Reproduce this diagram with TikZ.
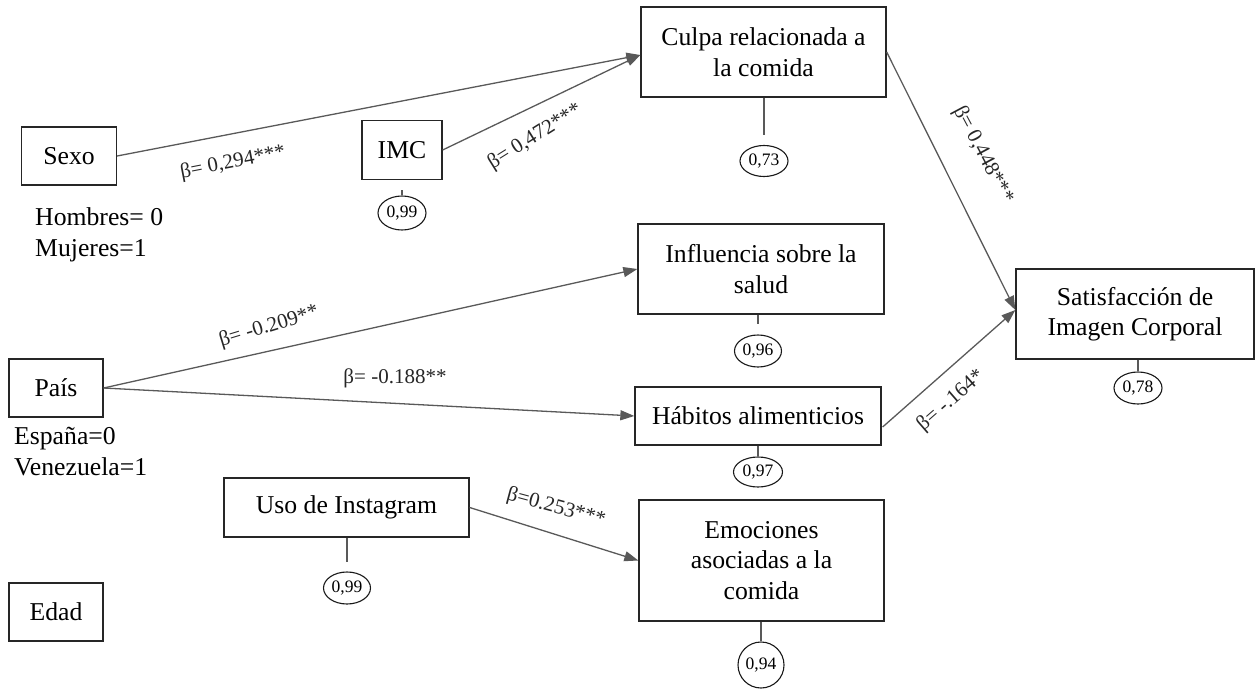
\documentclass[tikz,border=0pt]{standalone}
\usepackage{fontspec}
\setmainfont{Liberation Serif}
\usetikzlibrary{arrows.meta,shapes.geometric,calc}
\begin{document}
\begin{tikzpicture}[x=1pt,y=-1pt,
  box/.style={draw=black!85, line width=1.3pt, rectangle, align=center, inner sep=0pt, font=\fontsize{25.7}{30.5}\selectfont},
  err/.style={draw=black!90, line width=1.1pt, ellipse, inner sep=0pt, font=\fontsize{17.5}{19}\selectfont},
  arr/.style={draw=black!65, line width=1.3pt, -{Triangle[length=14pt,width=10pt]}},
  stub/.style={draw=black!65, line width=1.1pt},
  coef/.style={font=\fontsize{21}{23}\selectfont, text=black!85, inner sep=0pt},
  note/.style={font=\fontsize{25.7}{30.5}\selectfont, align=left, inner sep=0pt, anchor=west}
]
\useasboundingbox (0,0) rectangle (1256,690);

% boxes
\node[box, minimum width=95pt, minimum height=58pt] (sexo) at (69,156) {Sexo};
\node[box, minimum width=80pt, minimum height=59pt] (imc) at (402,150) {IMC};
\node[box, minimum width=245pt, minimum height=90pt] (culpa) at (763.5,52) {Culpa relacionada a\\la comida};
\node[box, minimum width=246pt, minimum height=90pt] (infl) at (761,269) {Influencia sobre la\\salud};
\node[box, minimum width=238pt, minimum height=90pt] (sat) at (1135,314) {Satisfacción de\\Imagen Corporal};
\node[box, minimum width=246pt, minimum height=58pt] (hab) at (758,416) {Hábitos alimenticios};
\node[box, minimum width=245pt, minimum height=121pt] (emo) at (761.5,560.5) {Emociones\\asociadas a la\\comida};
\node[box, minimum width=245pt, minimum height=59pt] (inst) at (346.5,507.5) {Uso de Instagram};
\node[box, minimum width=94pt, minimum height=58pt] (pais) at (56,388) {País};
\node[box, minimum width=94pt, minimum height=58pt] (edad) at (56,612) {Edad};

% notes
\node[note] (nsexo) at (35,235) {Hombres= 0\\Mujeres=1};
\node[note] (npais) at (14,451.5) {España=0\\Venezuela=1};

% error terms
\node[err, minimum width=48pt, minimum height=34pt] (eimc) at (402,213) {0,99};
\node[err, minimum width=48pt, minimum height=31pt] (eculpa) at (764,161) {0,73};
\node[err, minimum width=47pt, minimum height=32pt] (einfl) at (758,351) {0,96};
\node[err, minimum width=48pt, minimum height=32pt] (esat) at (1138,388) {0,78};
\node[err, minimum width=49pt, minimum height=30pt] (ehab) at (758,472) {0,97};
\node[err, minimum width=46pt, minimum height=46pt] (eemo) at (761,665) {0,94};
\node[err, minimum width=47pt, minimum height=32pt] (einst) at (347,588) {0,99};

% stubs
\draw[stub, shorten <=10pt] (eimc.north |- imc.south) -- (eimc.north);
\draw[stub, shorten >=10pt] (eculpa.north |- culpa.south) -- (eculpa.north);
\draw[stub, shorten >=10pt] (einfl.north |- infl.south) -- (einfl.north);
\draw[stub] (esat.north |- sat.south) -- (esat.north);
\draw[stub] (ehab.north |- hab.south) -- (ehab.north);
\draw[stub] (eemo.north |- emo.south) -- (eemo.north);
\draw[stub, shorten >=9pt] (einst.north |- inst.south) -- (einst.north);

% paths
\coordinate (habout) at ($(hab.east)+(1,11)$);
\draw[arr] (sexo.east) -- ($(culpa.west)+(0,3)$);
\draw[arr] (imc.east) -- ($(culpa.west)+(0,3)$);
\draw[arr] (culpa.east) -- ($(sat.west)+(0,-4)$);
\draw[arr] (pais.east) -- (infl.west);
\draw[arr] (pais.east) -- (hab.west);
\draw[arr] (habout) -- ($(sat.west)+(0,-4)$);
\draw[arr] (inst.east) -- (emo.west);

% coefficients
\node[coef, rotate=11] (c1) at (233,163) {β= 0,294***};
\node[coef, rotate=32] (c2) at (535,137) {β= 0,472***};
\node[coef, rotate=-62] (c3) at (983,155) {β= 0,448***};
\node[coef, rotate=41] (c4) at (951,401) {β= -.164*};
\node[coef, rotate=17] (c5) at (269,327) {β= -0.209**};
\node[coef] (c6) at (395,378) {β= -0.188**};
\node[coef, rotate=-15] (c7) at (556,508) {β=0.253***};
\end{tikzpicture}
\end{document}
